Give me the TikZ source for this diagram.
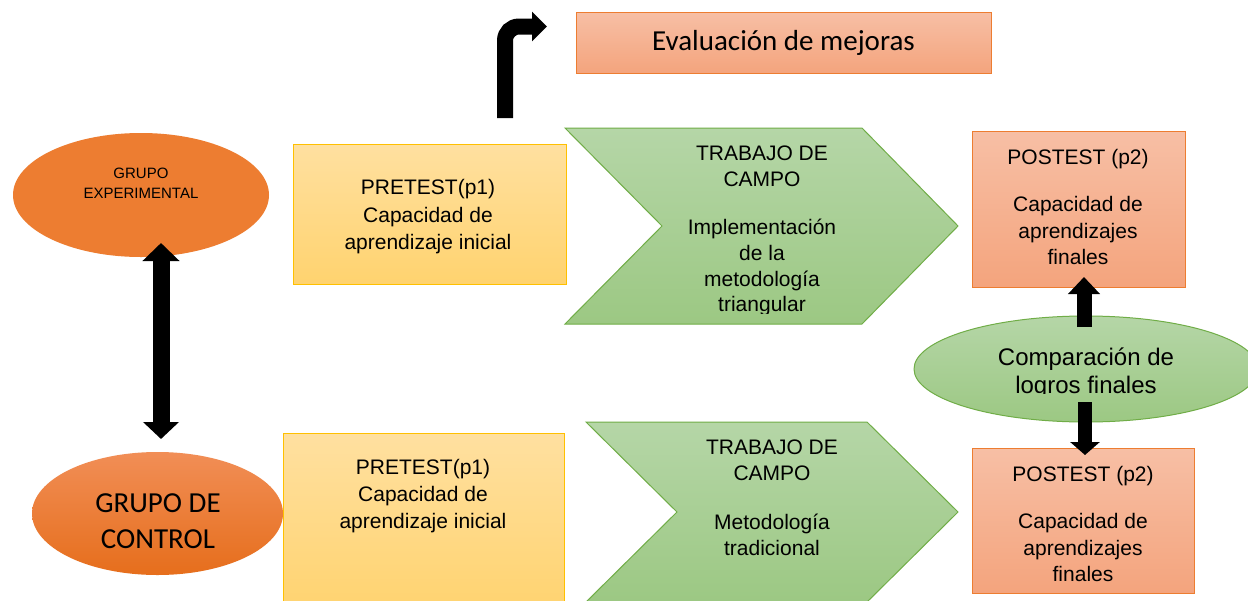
\documentclass[tikz,border=0pt]{standalone}
\usepackage{fontspec}
\setmainfont{Liberation Sans}
\newfontfamily\calib{Carlito}
\usetikzlibrary{shapes.geometric,arrows.meta}
\definecolor{orline}{HTML}{ED7D31}
\definecolor{orfill}{HTML}{ED7D31}
\definecolor{salT}{HTML}{F7BFA5}
\definecolor{salB}{HTML}{F4A47D}
\definecolor{yelT}{HTML}{FFE0A0}
\definecolor{yelB}{HTML}{FFD36F}
\definecolor{yelline}{HTML}{FFC000}
\definecolor{grnT}{HTML}{B5D6A7}
\definecolor{grnB}{HTML}{9CC883}
\definecolor{grnline}{HTML}{70AD47}
\definecolor{gcT}{HTML}{F18E56}
\definecolor{gcB}{HTML}{E66E1C}
\tikzset{
  salbox/.style={rectangle, draw=orline, line width=1pt, top color=salT, bottom color=salB, inner sep=0pt},
  yelbox/.style={rectangle, draw=yelline, line width=1pt, top color=yelT, bottom color=yelB, inner sep=0pt},
  chevshape/.style={draw=grnline, line width=1pt, top color=grnT, bottom color=grnB},
  txt/.style={align=center, inner sep=0pt, text=black},
}
\begin{document}
\begin{tikzpicture}[x=1pt,y=-1pt]
\clip (0,0) rectangle (1248,600);
\fill[white] (0,0) rectangle (1248,600);

% Evaluacion de mejoras
\node[salbox, minimum width=415pt, minimum height=61pt] (eval) at (783.5,42.5) {};
\node[txt, font=\calib\fontsize{29}{35}\selectfont] (evalt) at (783.5,43) {Evaluación de mejoras};

% Grupo experimental
\node[ellipse, fill=orfill, minimum width=256pt, minimum height=124pt, inner sep=0pt] (ge) at (141,195) {};
\node[txt, font=\fontsize{15}{20}\selectfont] (get) at (141,183) {GRUPO\\EXPERIMENTAL};

% Grupo de control
\node[ellipse, top color=gcT, bottom color=gcB, minimum width=251pt, minimum height=123pt, inner sep=0pt] (gc) at (157.5,513.5) {};
\node[txt, font=\calib\fontsize{29}{36}\selectfont] (gct) at (158,521) {GRUPO DE\\CONTROL};

% Pretest boxes
\node[yelbox, minimum width=273pt, minimum height=140pt] (pre1) at (429.5,214) {};
\node[txt, font=\fontsize{21}{27.5}\selectfont] (pre1t) at (428,217) {PRETEST(p1)\\Capacidad de\\aprendizaje inicial};
\node[yelbox, minimum width=281pt, minimum height=180pt] (pre2) at (423.5,523) {};
\node[txt, font=\fontsize{21}{27}\selectfont] (pre2t) at (423,496) {PRETEST(p1)\\Capacidad de\\aprendizaje inicial};

% Chevrons
\path[chevshape] (565,128) -- (862,128) -- (958,226) -- (862,324) -- (565,324) -- (662,226) -- cycle;
\coordinate (chev1) at (762,226);
\begin{scope}
\clip (600,130) rectangle (900,313);
\node[txt, font=\fontsize{21}{25.7}\selectfont] (chev1t) at (762,231) {TRABAJO DE\\CAMPO\\[23pt]Implementación\\de la\\metodología\\triangular};
\end{scope}
\path[chevshape] (586,422) -- (867,422) -- (958,512) -- (867,602) -- (586,602) -- (677,512) -- cycle;
\coordinate (chev2) at (772,512);
\node[txt, font=\fontsize{21}{26.5}\selectfont] (chev2t) at (772,498) {TRABAJO DE\\CAMPO\\[22pt]Metodología\\tradicional};

% Postest boxes
\node[salbox, minimum width=213pt, minimum height=156pt] (post1) at (1078.5,209) {};
\node[txt, font=\fontsize{21}{26.5}\selectfont] (post1t) at (1078,207) {POSTEST (p2)\\[21pt]Capacidad de\\aprendizajes\\finales};
\node[salbox, minimum width=222pt, minimum height=145pt] (post2) at (1083,520.5) {};
\node[txt, font=\fontsize{21}{26.5}\selectfont] (post2t) at (1083,524) {POSTEST (p2)\\[21pt]Capacidad de\\aprendizajes\\finales};

% Comparacion
\node[ellipse, draw=grnline, line width=1pt, top color=grnT, bottom color=grnB, minimum width=344pt, minimum height=106pt, inner sep=0pt] (comp) at (1086,369) {};
\begin{scope}
\clip (930,330) rectangle (1240,393);
\node[txt, font=\fontsize{24}{28}\selectfont] (compt) at (1086,373) {Comparación de\\logros finales};
\end{scope}

% Arrows
\coordinate (bentA) at (505,118);
\coordinate (bentB) at (505,26.5);
\coordinate (bentC) at (547,26.5);
\draw[line width=16pt, rounded corners=14pt, -{Triangle[length=15pt,width=29pt]}] (bentA) -- (bentB) -- (bentC);

\coordinate (dTop) at (161,243);
\coordinate (dBot) at (161,439);
\draw[line width=17pt, {Triangle[length=18pt,width=36pt]}-{Triangle[length=17pt,width=35pt]}] (dTop) -- (dBot);

\coordinate (upA) at (1084,327);
\coordinate (upB) at (1084,277);
\draw[line width=15pt, -{Triangle[length=17pt,width=31pt]}] (upA) -- (upB);

\coordinate (dnA) at (1085,402);
\coordinate (dnB) at (1085,455);
\draw[line width=14pt, -{Triangle[length=13pt,width=29pt]}] (dnA) -- (dnB);
\end{tikzpicture}
\end{document}
